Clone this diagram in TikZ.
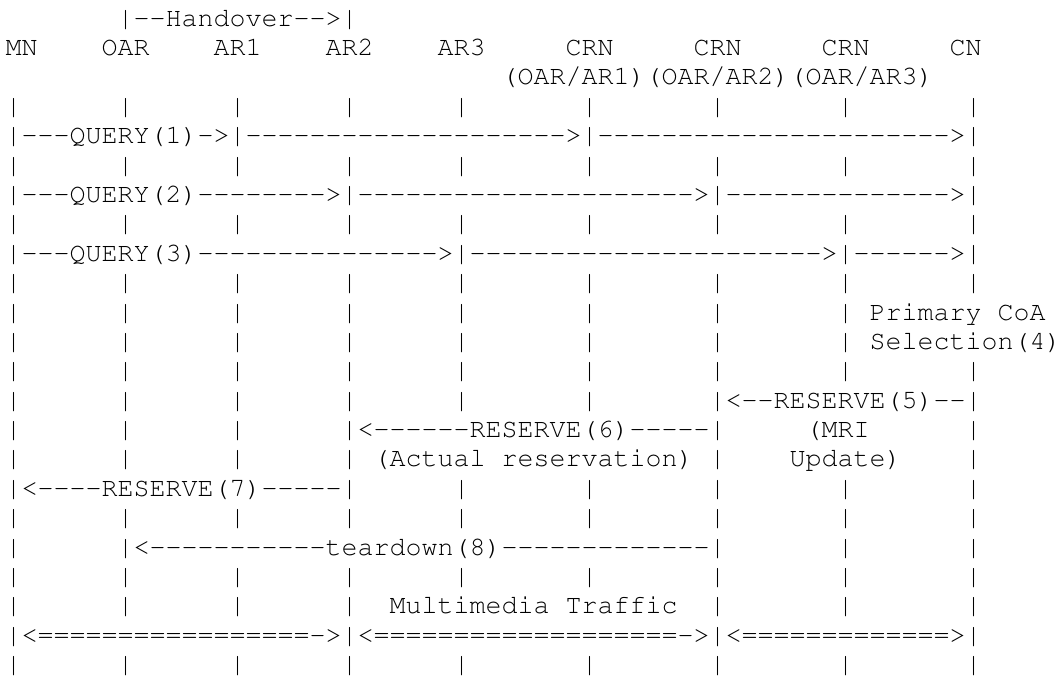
\documentclass[tikz,border=0pt]{standalone}
\usepackage[T1]{fontenc}
\usepackage{tikz}

\newlength{\charw}
\setlength{\charw}{12pt}
\newcommand{\asciifont}{\fontfamily{pcr}\fontseries{m}\fontshape{n}\fontsize{20}{22}\selectfont\frenchspacing}
\newcommand{\gap}[1]{\hspace*{#1\charw}}
\newcommand{\rep}[2]{\foreach\k in {1,...,#1}{#2}}
\newcommand{\bars}{|\gap{6}|\gap{6}|\gap{6}|\gap{6}|\gap{7}|\gap{7}|\gap{7}|\gap{7}|}

\begin{document}
\begin{tikzpicture}
[ln/.style={anchor=base west,inner sep=0pt,font=\asciifont}]
\fill[white] (0,0) rectangle (797.25pt,-509.25pt);
\useasboundingbox (0,0) rectangle (797.25pt,-509.25pt);
% header
\node[ln] (hand) at (4pt,-19.6pt) {\gap{7}|\rep{2}{-}Handover\rep{2}{-}>|};
\node[ln] (names) at (4pt,-41.64pt) {MN\gap{4}OAR\gap{4}AR1\gap{4}AR2\gap{4}AR3\gap{5}CRN\gap{5}CRN\gap{5}CRN\gap{5}CN};
\node[ln] (crns) at (4pt,-63.68pt) {\gap{31}(OAR/AR1)(OAR/AR2)(OAR/AR3)};
% queries
\node[ln] (l4) at (4pt,-85.72pt) {\bars};
\node[ln] (q1) at (4pt,-107.76pt) {|\rep{3}{-}QUERY(1)->|\rep{20}{-}>|\rep{22}{-}>|};
\node[ln] (l6) at (4pt,-129.8pt) {\bars};
\node[ln] (q2) at (4pt,-151.84pt) {|\rep{3}{-}QUERY(2)\rep{8}{-}>|\rep{21}{-}>|\rep{14}{-}>|};
\node[ln] (l8) at (4pt,-173.88pt) {\bars};
\node[ln] (q3) at (4pt,-195.92pt) {|\rep{3}{-}QUERY(3)\rep{15}{-}>|\rep{22}{-}>|\rep{6}{-}>|};
\node[ln] (l10) at (4pt,-217.96pt) {\bars};
% selection
\node[ln] (sel1) at (4pt,-240pt) {|\gap{6}|\gap{6}|\gap{6}|\gap{6}|\gap{7}|\gap{7}|\gap{7}|\gap{1}Primary\gap{1}CoA};
\node[ln] (sel2) at (4pt,-262.04pt) {|\gap{6}|\gap{6}|\gap{6}|\gap{6}|\gap{7}|\gap{7}|\gap{7}|\gap{1}Selection(4)};
\node[ln] (l13) at (4pt,-284.08pt) {\bars};
% reservations
\node[ln] (res5) at (4pt,-306.12pt) {|\gap{6}|\gap{6}|\gap{6}|\gap{6}|\gap{7}|\gap{7}|<\rep{2}{-}RESERVE(5)\rep{2}{-}|};
\node[ln] (res6) at (4pt,-328.16pt) {|\gap{6}|\gap{6}|\gap{6}|<\rep{6}{-}RESERVE(6)\rep{5}{-}|\gap{5}(MRI\gap{6}|};
\node[ln] (act) at (4pt,-350.2pt) {|\gap{6}|\gap{6}|\gap{6}|\gap{1}(Actual\gap{1}reservation)\gap{1}|\gap{4}Update)\gap{4}|};
\node[ln] (res7) at (4pt,-372.24pt) {|<\rep{4}{-}RESERVE(7)\rep{5}{-}|\gap{6}|\gap{7}|\gap{7}|\gap{7}|\gap{7}|};
\node[ln] (l18) at (4pt,-394.28pt) {\bars};
\node[ln] (tear) at (4pt,-416.32pt) {|\gap{6}|<\rep{11}{-}teardown(8)\rep{13}{-}|\gap{7}|\gap{7}|};
\node[ln] (l20) at (4pt,-438.36pt) {\bars};
% traffic
\node[ln] (mm) at (4pt,-460.4pt) {|\gap{6}|\gap{6}|\gap{6}|\gap{2}Multimedia\gap{1}Traffic\gap{2}|\gap{7}|\gap{7}|};
\node[ln] (traf) at (4pt,-482.44pt) {|<\rep{17}{=}->|<\rep{19}{=}->|<\rep{13}{=}>|};
\node[ln] (l23) at (4pt,-504.48pt) {\bars};
\end{tikzpicture}
\end{document}
